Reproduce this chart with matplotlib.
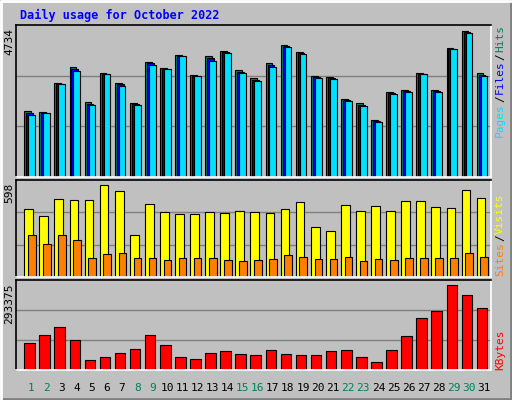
import matplotlib
matplotlib.use("Agg")
import matplotlib.pyplot as plt

days = list(range(1, 32))
weekend = [1, 2, 8, 9, 15, 16, 22, 23, 29, 30]
hits = [2140, 2107, 3048, 3566, 2432, 3372, 3048, 2399, 3728, 3534, 3955, 3307, 3923, 4085, 3469, 3210,
        3696, 4280, 4053, 3275, 3242, 2529, 2399, 1848, 2756, 2821, 3372, 2821, 4183, 4734, 3372]
files = [2090, 2075, 3015, 3500, 2380, 3340, 3000, 2360, 3690, 3500, 3930, 3290, 3860, 4050, 3420, 3160,
         3630, 4250, 4020, 3245, 3210, 2500, 2350, 1810, 2720, 2790, 3355, 2790, 4165, 4700, 3320]
pages = [2010, 2075, 3015, 3437, 2335, 3340, 2950, 2335, 3630, 3500, 3923, 3275, 3760, 4020, 3372, 3113,
         3566, 4215, 3988, 3210, 3177, 2464, 2302, 1783, 2691, 2756, 3340, 2756, 4150, 4668, 3275]
visits = [440, 394, 506, 499, 499, 598, 558, 276, 473, 420, 407, 407, 420, 414, 427, 420,
          414, 440, 486, 328, 296, 466, 427, 460, 427, 493, 493, 453, 447, 565, 512]
sites = [276, 217, 276, 243, 125, 151, 158, 125, 125, 112, 125, 125, 125, 112, 105, 112,
         118, 145, 131, 118, 118, 131, 105, 118, 112, 125, 125, 125, 125, 158, 131]
kbytes = [93200, 120800, 148400, 103500, 34500, 44900, 58700, 72500, 120800, 86300, 44900, 38000,
          58700, 65600, 55200, 51800, 69000, 55200, 51800, 51800, 65600, 69000, 44900, 27600,
          69000, 117300, 179500, 203600, 293375, 258800, 214000]

W, H = 512, 400
fig = plt.figure(figsize=(W / 100, H / 100), dpi=100, facecolor="#C0C0C0")
mono = "DejaVu Sans Mono"

ov = fig.add_axes([0, 0, 1, 1], zorder=0)
ov.set_xlim(0, W); ov.set_ylim(H, 0); ov.axis("off")
ov.plot([0.5, W - 1, W - 1], [H - 1, H - 1, 0.5], color="#808080", lw=2)
ov.plot([0.5, 0.5, W - 1], [H - 1, 0.5, 0.5], color="white", lw=2)
ov.text(20, 15, "Daily usage for October 2022", color="#0000FF", fontsize=8.5,
        fontweight="bold", family=mono, va="center", ha="left")

panels = [(25, 177), (180, 277), (280, 370)]
x0, x1 = 16, 491
XL = (0.1, 31.6)


def make_ax(top, bot, maxv, maxpix):
    ax = fig.add_axes([x0 / W, 1 - bot / H, (x1 - x0) / W, (bot - top) / H], zorder=1)
    ax.set_facecolor("#C0C0C0")
    ax.set_xlim(*XL)
    h = bot - top
    ax.set_ylim(0, maxv * h / (h - maxpix))
    for s in ax.spines.values():
        s.set_linewidth(1.2)
    ax.spines["top"].set_color("black"); ax.spines["left"].set_color("black")
    ax.spines["bottom"].set_color("white"); ax.spines["right"].set_color("white")
    ax.set_xticks([]); ax.set_yticks([])
    yl = ax.get_ylim()[1]
    for f in (1 / 3, 2 / 3):
        ax.axhline(yl * f, color="#808080", lw=1, zorder=0)
    ov.text(x0 - 2, top + 3, str(maxv), rotation=90, ha="right", va="top",
            fontsize=8, family=mono, color="black")
    return ax


ax1 = make_ax(*panels[0], max(hits), 6)
for d in days:
    ax1.bar(d - 0.35, hits[d - 1], width=0.45, align="edge", color="#00805C", edgecolor="black", lw=0.8)
    ax1.bar(d - 0.22, files[d - 1], width=0.45, align="edge", color="#0000FF", edgecolor="black", lw=0.8)
    ax1.bar(d - 0.09, pages[d - 1], width=0.45, align="edge", color="#00E0FF", edgecolor="black", lw=0.8)

ax2 = make_ax(*panels[1], max(visits), 5)
for d in days:
    ax2.bar(d - 0.35, visits[d - 1], width=0.58, align="edge", color="#FFFF00", edgecolor="black", lw=0.8)
    ax2.bar(d - 0.1, sites[d - 1], width=0.5, align="edge", color="#FF8000", edgecolor="black", lw=0.8)

ax3 = make_ax(*panels[2], max(kbytes), 5)
for d in days:
    ax3.bar(d - 0.35, kbytes[d - 1], width=0.7, align="edge", color="#FF0000", edgecolor="black", lw=0.8)

slot = (x1 - x0) / (XL[1] - XL[0])
for d in days:
    px = x0 + (d - XL[0]) * slot + 2
    ov.text(px, 388, str(d), ha="center", va="center", fontsize=8, family=mono,
            color="#00805C" if d in weekend else "black")

fig.canvas.draw()
renderer = fig.canvas.get_renderer()
inv = ov.transData.inverted()


def stack(parts, ybottom, x=500):
    y = ybottom
    for txt, col in parts:
        t = ov.text(x, y, txt, rotation=90, ha="center", va="bottom", fontsize=8,
                    family=mono, color=col)
        bb = t.get_window_extent(renderer)
        (_, ya), (_, yb) = inv.transform([[bb.x0, bb.y0], [bb.x1, bb.y1]])
        y -= abs(ya - yb) + 1


stack([("Pages", "#00E0FF"), ("/", "black"), ("Files", "#0000FF"), ("/", "black"), ("Hits", "#00805C")], 137)
stack([("Sites", "#FF8000"), ("/", "black"), ("Visits", "#FFFF00")], 276)
stack([("KBytes", "#FF0000")], 370)

fig.savefig("out.png", dpi=100, facecolor=fig.get_facecolor())
